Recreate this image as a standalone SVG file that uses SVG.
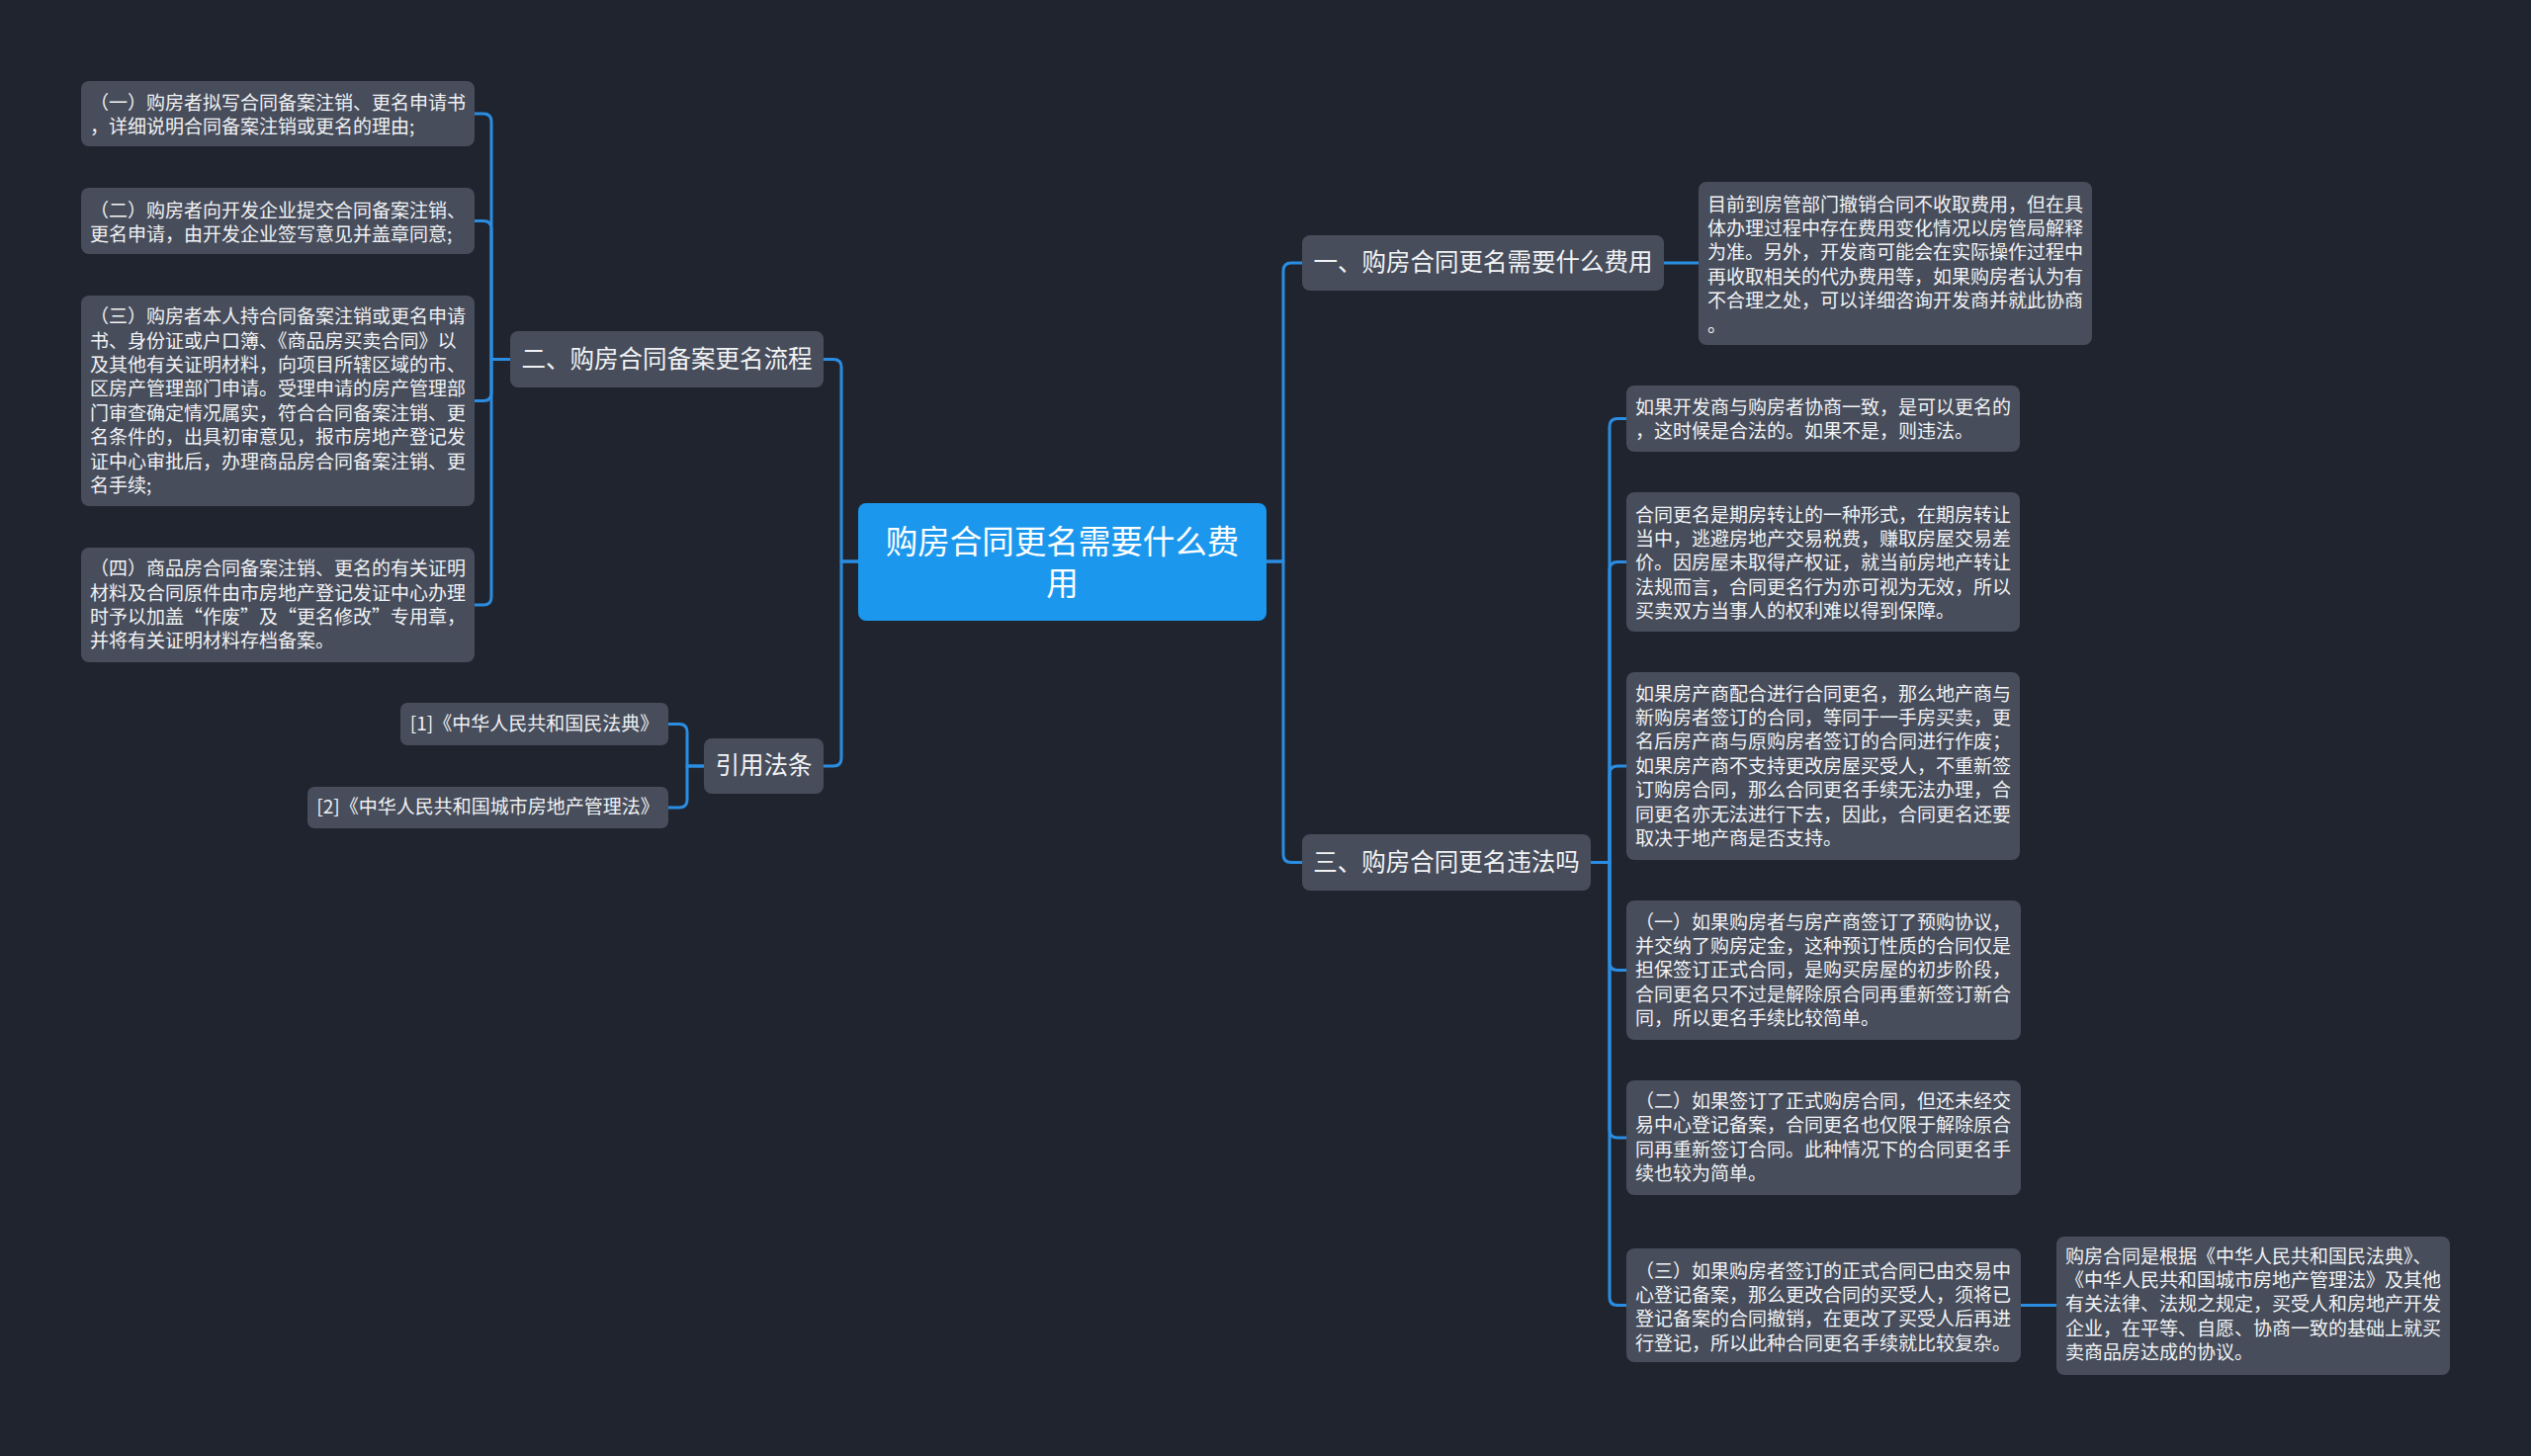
<svg xmlns="http://www.w3.org/2000/svg" width="2560" height="1473" viewBox="0 0 2560 1473">
<style>
.bg{fill:#20242f}
.nd{fill:#474d5b}
.root{fill:#1b98ee}
.t{font-family:"Noto Sans CJK SC","Noto Sans",sans-serif;fill:#f2f3f5}
.s{font-size:19px}
.b{font-size:24.5px;text-anchor:middle}
.c{font-size:32.5px;text-anchor:middle;fill:#ffffff}
.ln{fill:none;stroke:#2a8de2;stroke-width:3;stroke-linecap:round;stroke-linejoin:round}
</style>
<rect class="bg" x="0" y="0" width="2560" height="1473"/>
<g id="connectors">
<path class="ln" d="M868 568 H851 V371.5 Q851 363.5 843 363.5 H833"/>
<path class="ln" d="M868 568 H851 V767 Q851 775 843 775 H833"/>
<path class="ln" d="M1281 568 H1298 V274 Q1298 266 1306 266 H1317"/>
<path class="ln" d="M1281 568 H1298 V864.5 Q1298 872.5 1306 872.5 H1317"/>
<path class="ln" d="M516 363.5 H497 V123 Q497 115 489 115 H480"/>
<path class="ln" d="M516 363.5 H497 V231.5 Q497 223.5 489 223.5 H480"/>
<path class="ln" d="M516 363.5 H497 V397.5 Q497 405.5 489 405.5 H480"/>
<path class="ln" d="M516 363.5 H497 V604 Q497 612 489 612 H480"/>
<path class="ln" d="M712 775 H695 V740.5 Q695 732.5 687 732.5 H676"/>
<path class="ln" d="M712 775 H695 V809 Q695 817 687 817 H676"/>
<path class="ln" d="M1683 266 H1718"/>
<path class="ln" d="M1609 872.5 H1628 V431.5 Q1628 423.5 1636 423.5 H1645"/>
<path class="ln" d="M1609 872.5 H1628 V576.5 Q1628 568.5 1636 568.5 H1645"/>
<path class="ln" d="M1609 872.5 H1628 V783 Q1628 775 1636 775 H1645"/>
<path class="ln" d="M1609 872.5 H1628 V973.5 Q1628 981.5 1636 981.5 H1645"/>
<path class="ln" d="M1609 872.5 H1628 V1143 Q1628 1151 1636 1151 H1645"/>
<path class="ln" d="M1609 872.5 H1628 V1312.5 Q1628 1320.5 1636 1320.5 H1645"/>
<path class="ln" d="M2044 1320.5 H2080"/>
</g>
<g id="root">
<rect class="root" x="868" y="509" width="413" height="119" rx="8"/>
<text class="t c"><tspan x="1074.5" y="559.5">购房合同更名需要什么费</tspan><tspan x="1074.5" y="601.5">用</tspan></text>
</g>
<g id="b1">
<rect class="nd" x="1317" y="238" width="366" height="56" rx="8"/>
<text class="t b" x="1500" y="274">一、购房合同更名需要什么费用</text>
</g>
<g id="b2">
<rect class="nd" x="516" y="335" width="317" height="57" rx="8"/>
<text class="t b" x="674.5" y="371.5">二、购房合同备案更名流程</text>
</g>
<g id="b3">
<rect class="nd" x="1317" y="844" width="292" height="57" rx="8"/>
<text class="t b" x="1463" y="880.5">三、购房合同更名违法吗</text>
</g>
<g id="b4">
<rect class="nd" x="712" y="747" width="121" height="56" rx="8"/>
<text class="t b" x="772.5" y="783">引用法条</text>
</g>
<g id="ref1">
<rect class="nd" x="405" y="711" width="271" height="43" rx="7"/>
<text class="t s" x="540.5" y="738.5" text-anchor="middle">[1]《中华人民共和国民法典》</text>
</g>
<g id="ref2">
<rect class="nd" x="311" y="796" width="365" height="42" rx="7"/>
<text class="t s" x="493.5" y="823" text-anchor="middle">[2]《中华人民共和国城市房地产管理法》</text>
</g>
<g id="l1">
<rect class="nd" x="82" y="82" width="398" height="66" rx="8"/>
<text class="t s"><tspan x="91" y="110.5">（一）购房者拟写合同备案注销、更名申请书</tspan><tspan x="91" dy="24.4">，详细说明合同备案注销或更名的理由;</tspan></text>
</g>
<g id="l2">
<rect class="nd" x="82" y="190" width="398" height="67" rx="8"/>
<text class="t s"><tspan x="91" y="219.5">（二）购房者向开发企业提交合同备案注销、</tspan><tspan x="91" dy="24.4">更名申请，由开发企业签写意见并盖章同意;</tspan></text>
</g>
<g id="l3">
<rect class="nd" x="82" y="299" width="398" height="213" rx="8"/>
<text class="t s"><tspan x="91" y="327.2">（三）购房者本人持合同备案注销或更名申请</tspan><tspan x="91" dy="24.4">书、身份证或户口簿、《商品房买卖合同》以</tspan><tspan x="91" dy="24.4">及其他有关证明材料，向项目所辖区域的市、</tspan><tspan x="91" dy="24.4">区房产管理部门申请。受理申请的房产管理部</tspan><tspan x="91" dy="24.4">门审查确定情况属实，符合合同备案注销、更</tspan><tspan x="91" dy="24.4">名条件的，出具初审意见，报市房地产登记发</tspan><tspan x="91" dy="24.4">证中心审批后，办理商品房合同备案注销、更</tspan><tspan x="91" dy="24.4">名手续;</tspan></text>
</g>
<g id="l4">
<rect class="nd" x="82" y="554" width="398" height="116" rx="8"/>
<text class="t s"><tspan x="91" y="582.2">（四）商品房合同备案注销、更名的有关证明</tspan><tspan x="91" dy="24.4">材料及合同原件由市房地产登记发证中心办理</tspan><tspan x="91" dy="24.4">时予以加盖“作废”及“更名修改”专用章，</tspan><tspan x="91" dy="24.4">并将有关证明材料存档备案。</tspan></text>
</g>
<g id="d1">
<rect class="nd" x="1718" y="184" width="398" height="165" rx="8"/>
<text class="t s"><tspan x="1727" y="213.5">目前到房管部门撤销合同不收取费用，但在具</tspan><tspan x="1727" dy="24.4">体办理过程中存在费用变化情况以房管局解释</tspan><tspan x="1727" dy="24.4">为准。另外，开发商可能会在实际操作过程中</tspan><tspan x="1727" dy="24.4">再收取相关的代办费用等，如果购房者认为有</tspan><tspan x="1727" dy="24.4">不合理之处，可以详细咨询开发商并就此协商</tspan><tspan x="1727" dy="24.4">。</tspan></text>
</g>
<g id="r1">
<rect class="nd" x="1645" y="390" width="398" height="67" rx="8"/>
<text class="t s"><tspan x="1654" y="418.5">如果开发商与购房者协商一致，是可以更名的</tspan><tspan x="1654" dy="24.4">，这时候是合法的。如果不是，则违法。</tspan></text>
</g>
<g id="r2">
<rect class="nd" x="1645" y="498" width="398" height="141" rx="8"/>
<text class="t s"><tspan x="1654" y="527.5">合同更名是期房转让的一种形式，在期房转让</tspan><tspan x="1654" dy="24.4">当中，逃避房地产交易税费，赚取房屋交易差</tspan><tspan x="1654" dy="24.4">价。因房屋未取得产权证，就当前房地产转让</tspan><tspan x="1654" dy="24.4">法规而言，合同更名行为亦可视为无效，所以</tspan><tspan x="1654" dy="24.4">买卖双方当事人的权利难以得到保障。</tspan></text>
</g>
<g id="r3">
<rect class="nd" x="1645" y="680" width="398" height="190" rx="8"/>
<text class="t s"><tspan x="1654" y="708.5">如果房产商配合进行合同更名，那么地产商与</tspan><tspan x="1654" dy="24.4">新购房者签订的合同，等同于一手房买卖，更</tspan><tspan x="1654" dy="24.4">名后房产商与原购房者签订的合同进行作废；</tspan><tspan x="1654" dy="24.4">如果房产商不支持更改房屋买受人，不重新签</tspan><tspan x="1654" dy="24.4">订购房合同，那么合同更名手续无法办理，合</tspan><tspan x="1654" dy="24.4">同更名亦无法进行下去，因此，合同更名还要</tspan><tspan x="1654" dy="24.4">取决于地产商是否支持。</tspan></text>
</g>
<g id="r4">
<rect class="nd" x="1645" y="911" width="399" height="141" rx="8"/>
<text class="t s"><tspan x="1654" y="939.5">（一）如果购房者与房产商签订了预购协议，</tspan><tspan x="1654" dy="24.4">并交纳了购房定金，这种预订性质的合同仅是</tspan><tspan x="1654" dy="24.4">担保签订正式合同，是购买房屋的初步阶段，</tspan><tspan x="1654" dy="24.4">合同更名只不过是解除原合同再重新签订新合</tspan><tspan x="1654" dy="24.4">同，所以更名手续比较简单。</tspan></text>
</g>
<g id="r5">
<rect class="nd" x="1645" y="1093" width="399" height="116" rx="8"/>
<text class="t s"><tspan x="1654" y="1121">（二）如果签订了正式购房合同，但还未经交</tspan><tspan x="1654" dy="24.4">易中心登记备案，合同更名也仅限于解除原合</tspan><tspan x="1654" dy="24.4">同再重新签订合同。此种情况下的合同更名手</tspan><tspan x="1654" dy="24.4">续也较为简单。</tspan></text>
</g>
<g id="r6">
<rect class="nd" x="1645" y="1263" width="399" height="115" rx="8"/>
<text class="t s"><tspan x="1654" y="1292.5">（三）如果购房者签订的正式合同已由交易中</tspan><tspan x="1654" dy="24.4">心登记备案，那么更改合同的买受人，须将已</tspan><tspan x="1654" dy="24.4">登记备案的合同撤销，在更改了买受人后再进</tspan><tspan x="1654" dy="24.4">行登记，所以此种合同更名手续就比较复杂。</tspan></text>
</g>
<g id="r7">
<rect class="nd" x="2080" y="1251" width="398" height="140" rx="8"/>
<text class="t s"><tspan x="2089" y="1277.5">购房合同是根据《中华人民共和国民法典》、</tspan><tspan x="2089" dy="24.4">《中华人民共和国城市房地产管理法》及其他</tspan><tspan x="2089" dy="24.4">有关法律、法规之规定，买受人和房地产开发</tspan><tspan x="2089" dy="24.4">企业，在平等、自愿、协商一致的基础上就买</tspan><tspan x="2089" dy="24.4">卖商品房达成的协议。</tspan></text>
</g>
</svg>
